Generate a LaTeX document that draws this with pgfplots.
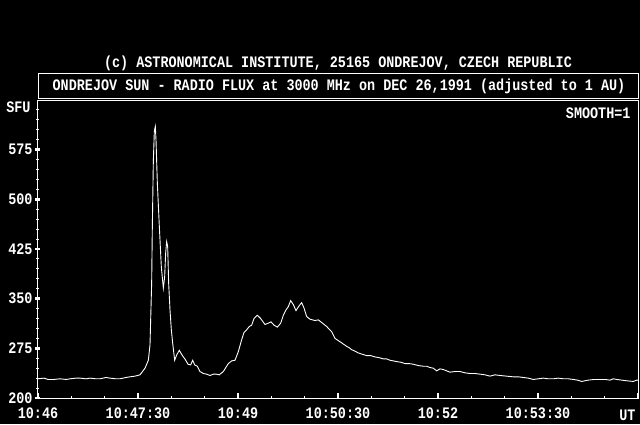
\documentclass[border=0pt]{standalone}
\usepackage{pgfplots}
\pgfplotsset{compat=1.18}
\usepackage{fontspec}
\setmainfont{Liberation Mono}[FakeStretch=0.84,BoldFont={Liberation Mono Bold}]
\begin{document}
\begin{tikzpicture}[x=1pt,y=1pt]
\fill[black] (0,0) rectangle (640,424);
\useasboundingbox (0,0) rectangle (640,424);
\begin{axis}[
  at={(38pt,26pt)}, anchor=south west,
  scale only axis, width=600pt, height=298pt,
  xmin=0, xmax=540, ymin=200, ymax=650,
  axis line style={white, line width=1pt},
  tick pos=left, tick align=inside,
  xtick={0,90,180,270,360,450,540},
  xticklabels={10:46,10:47:30,10:49,10:50:30,10:52,10:53:30,{}},
  minor xtick={30,60,120,150,210,240,300,330,390,420,480,510},
  ytick={200,275,350,425,500,575},
  yticklabels={200,275,350,425,500,575},
  minor ytick={215,230,245,260,290,305,320,335,365,380,395,410,440,455,470,485,515,530,545,560,590,605,620,635},
  major tick length=5pt, minor tick length=2.5pt,
  major x tick style={white, line width=1.5pt},
  minor x tick style={white, line width=1pt},
  major y tick style={white, line width=2.5pt, xshift=-3pt},
  minor y tick style={white, line width=1pt, xshift=-2pt},
  every tick label/.append style={text=white, font=\fontsize{16}{16}\selectfont\bfseries},
  xticklabel style={yshift=-6pt},
  yticklabel style={anchor=east, xshift=-2pt},
  clip=true,
]
\addplot[white, line width=0.9pt] table {
x y
0 229
5.4 230
9.0 228
14.4 228
19.8 229
25.2 228
28.8 229
34.2 230
37.8 230
43.2 229
46.8 230
52.2 229
55.8 229
61.2 231
64.8 230
70.2 229
73.8 229
79.2 231
82.8 232
87.3 233
91.8 235
96.3 245
99.3 257
100.8 280
102.3 374
102.9 459
103.8 557
104.7 603
105.6 610
106.2 590
107.4 525
109.2 459
111.0 398
112.8 366
114.0 383
114.9 419
115.8 436
116.7 429
117.6 373
118.8 333
120.0 303
121.2 283
123.0 257
124.8 265
127.2 272
129.6 265
132.6 258
135.0 251
137.4 250
139.2 257
141.0 250
143.4 248
145.8 240
148.8 237
151.8 236
154.8 234
157.8 236
160.5 236
163.2 235
166.8 240
171.3 252
174.3 256
177.3 257
180.3 270
183.3 288
185.4 299
187.8 303
190.2 308
192.3 310
194.4 320
197.4 325
200.4 320
204.3 311
207.3 313
209.7 315
212.4 310
215.4 307
218.4 313
220.8 325
223.2 333
225.3 338
227.4 347
229.8 341
232.2 332
234.9 339
237.3 344
239.4 336
241.8 323
244.8 319
249.3 317
252.3 318
255.3 314
259.8 308
264.3 300
267.3 290
271.8 285
277.8 278
280.0 276
282.3 273
285.0 271
288.3 268
292.0 266
295.8 264
299.5 264
303.3 262
307.0 261
310.8 259
313.8 259
316.8 257
319.8 256
322.8 255
326.5 254
330.3 252
334.0 252
337.8 251
342.3 249
346.8 248
349.8 248
352.8 246
355.8 245
358.8 241
361.8 244
364.8 243
367.8 241
370.8 239
375.3 240
379.8 240
384.3 238
388.8 237
393.3 237
397.8 236
402.3 235
406.8 233
411.3 235
415.8 234
421.8 233
427.8 232
432.3 232
436.8 231
441.3 230
445.8 228
450.3 229
454.8 230
459.3 229
463.8 229
468.3 230
472.8 229
477.3 229
481.8 228
485.5 227
489.3 225
495.3 227
500.5 228
505.8 228
510.3 228
514.8 227
517.8 229
520.8 228
525.3 227
529.8 226
535.8 225
538.8 227
540 227
};
\end{axis}
\draw[white, line width=1pt] (38,325) rectangle (638,350);
\node[text=white, font=\fontsize{16}{16}\selectfont\bfseries] at (338,361) {(c) ASTRONOMICAL INSTITUTE, 25165 ONDREJOV, CZECH REPUBLIC};
\node[text=white, font=\fontsize{16}{16}\selectfont\bfseries] at (339,337.5) {ONDREJOV SUN - RADIO FLUX at 3000 MHz on DEC 26,1991 (adjusted to 1 AU)};
\node[text=white, font=\fontsize{16}{16}\selectfont\bfseries, anchor=east] at (634,311) {SMOOTH=1};
\node[text=white, font=\fontsize{16}{16}\selectfont\bfseries, anchor=east] at (34,317) {SFU};
\node[text=white, font=\fontsize{16}{16}\selectfont\bfseries, anchor=east] at (639,9) {UT};
\end{tikzpicture}
\end{document}
